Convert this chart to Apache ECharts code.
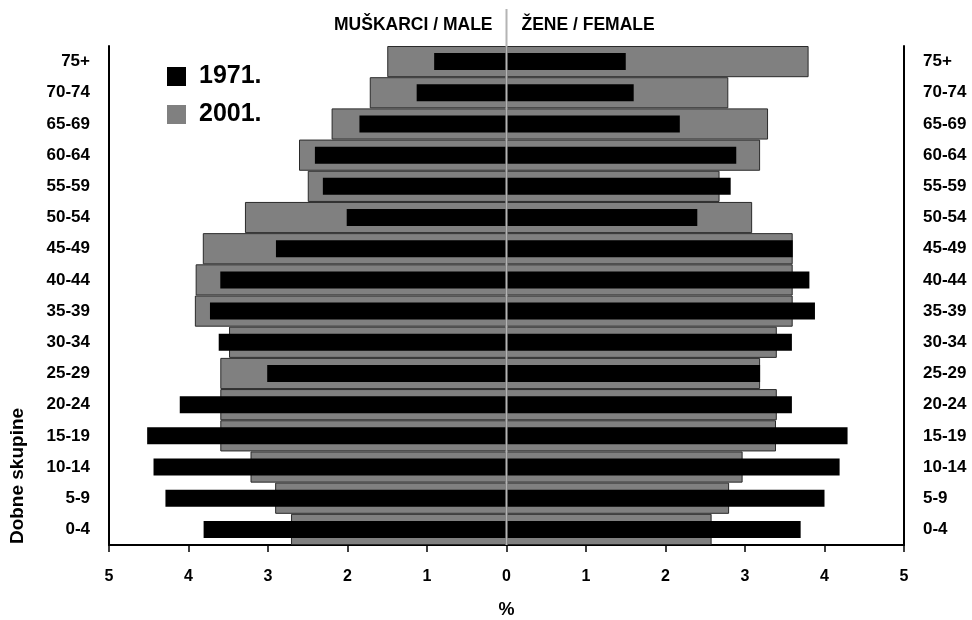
<!DOCTYPE html>
<html>
<head>
<meta charset="utf-8">
<script src="https://cdn.jsdelivr.net/npm/echarts@6/dist/echarts.min.js"></script>
<style>html,body{margin:0;padding:0;background:#fff;}#c{width:972px;height:620px;}</style>
</head>
<body>
<div id="c"></div>
<script>
const ages = ['0-4','5-9','10-14','15-19','20-24','25-29','30-34','35-39','40-44','45-49','50-54','55-59','60-64','65-69','70-74','75+'];
const male1971   = [3.81,4.29,4.44,4.52,4.11,3.01,3.62,3.73,3.60,2.90,2.01,2.31,2.41,1.85,1.13,0.91];
const female1971 = [3.70,4.00,4.19,4.29,3.59,3.19,3.59,3.88,3.81,3.60,2.40,2.82,2.89,2.18,1.60,1.50];
const male2001   = [2.71,2.91,3.22,3.60,3.60,3.60,3.49,3.92,3.91,3.82,3.29,2.50,2.61,2.20,1.72,1.50];
const female2001 = [2.58,2.80,2.97,3.39,3.40,3.19,3.40,3.60,3.60,3.60,3.09,2.68,3.19,3.29,2.79,3.80];
const xTicks = [-5,-4,-3,-2,-1,0,1,2,3,4,5];

const FONT = '"Liberation Sans", Arial, Helvetica, sans-serif';
const chart = echarts.init(document.getElementById('c'), null, {renderer:'canvas'});
const labelStyle = {color:'#000', fontWeight:'bold', fontSize:17, fontFamily:FONT};
const yBase = {
  type:'category', data:ages,
  axisLine:{show:true, onZero:false, lineStyle:{color:'#000', width:2}},
  axisTick:{show:false},
  axisLabel:Object.assign({margin:19}, labelStyle)
};
chart.setOption({
  animation:false,
  backgroundColor:'#fff',
  textStyle:{fontFamily:FONT},
  grid:{left:109, right:68, top:46, bottom:75, containLabel:false, outerBoundsMode:'none'},
  legend:{
    data:['1971.','2001.'], orient:'vertical', left:167, top:64, padding:0,
    itemWidth:19, itemHeight:19, itemGap:13, icon:'rect',
    itemStyle:{borderWidth:0},
    textStyle:{color:'#000', fontWeight:'bold', fontSize:25, fontFamily:FONT, padding:[0,0,0,8]}
  },
  xAxis:{
    type:'value', min:xTicks[0], max:xTicks[xTicks.length-1], interval:1,
    axisLine:{show:true, onZero:false, lineStyle:{color:'#000', width:2}},
    axisTick:{show:true, length:7, lineStyle:{color:'#000', width:1.5}},
    splitLine:{show:false},
    axisLabel:Object.assign({margin:24, formatter:v=>String(Math.abs(v))}, labelStyle, {fontSize:16}),
    name:'%', nameLocation:'middle', nameGap:56,
    nameTextStyle:Object.assign({}, labelStyle, {fontSize:18})
  },
  yAxis:[
    Object.assign({position:'left'}, yBase),
    Object.assign({position:'right'}, yBase)
  ],
  series:[
    {name:'2001.', type:'bar', yAxisIndex:0, stack:'g', barCategoryGap:'0%',
     data:male2001.map(v=>-v),
     itemStyle:{color:'#808080', borderColor:'#2a2a2a', borderWidth:1}},
    {name:'2001.', type:'bar', yAxisIndex:0, stack:'g', barCategoryGap:'0%',
     data:female2001,
     itemStyle:{color:'#808080', borderColor:'#2a2a2a', borderWidth:1}},
    {name:'1971.', type:'bar', yAxisIndex:1, stack:'b', barWidth:17,
     data:male1971.map(v=>-v), itemStyle:{color:'#000'}, z:3},
    {name:'1971.', type:'bar', yAxisIndex:1, stack:'b', barWidth:17,
     data:female1971, itemStyle:{color:'#000'}, z:3}
  ]
});

const x0 = chart.convertToPixel({xAxisIndex:0}, 0);
const yBottom = chart.getHeight() - 75;
chart.setOption({
  graphic:[
    {type:'line', z:100, shape:{x1:x0, y1:9, x2:x0, y2:yBottom},
     style:{stroke:'#b4b4b4', lineWidth:2}},
    {type:'text', z:100, x:x0-14, y:25,
     style:{text:'MUŠKARCI / MALE', align:'right', verticalAlign:'middle', fill:'#000',
            font:'bold 17.5px ' + FONT}},
    {type:'text', z:100, x:x0+15, y:25,
     style:{text:'ŽENE / FEMALE', align:'left', verticalAlign:'middle', fill:'#000',
            font:'bold 17.5px ' + FONT}},
    {type:'text', z:100, x:18, y:476, rotation:Math.PI/2,
     style:{text:'Dobne skupine', align:'center', verticalAlign:'middle', fill:'#000',
            font:'bold 19px ' + FONT}}
  ]
});
</script>
</body>
</html>
